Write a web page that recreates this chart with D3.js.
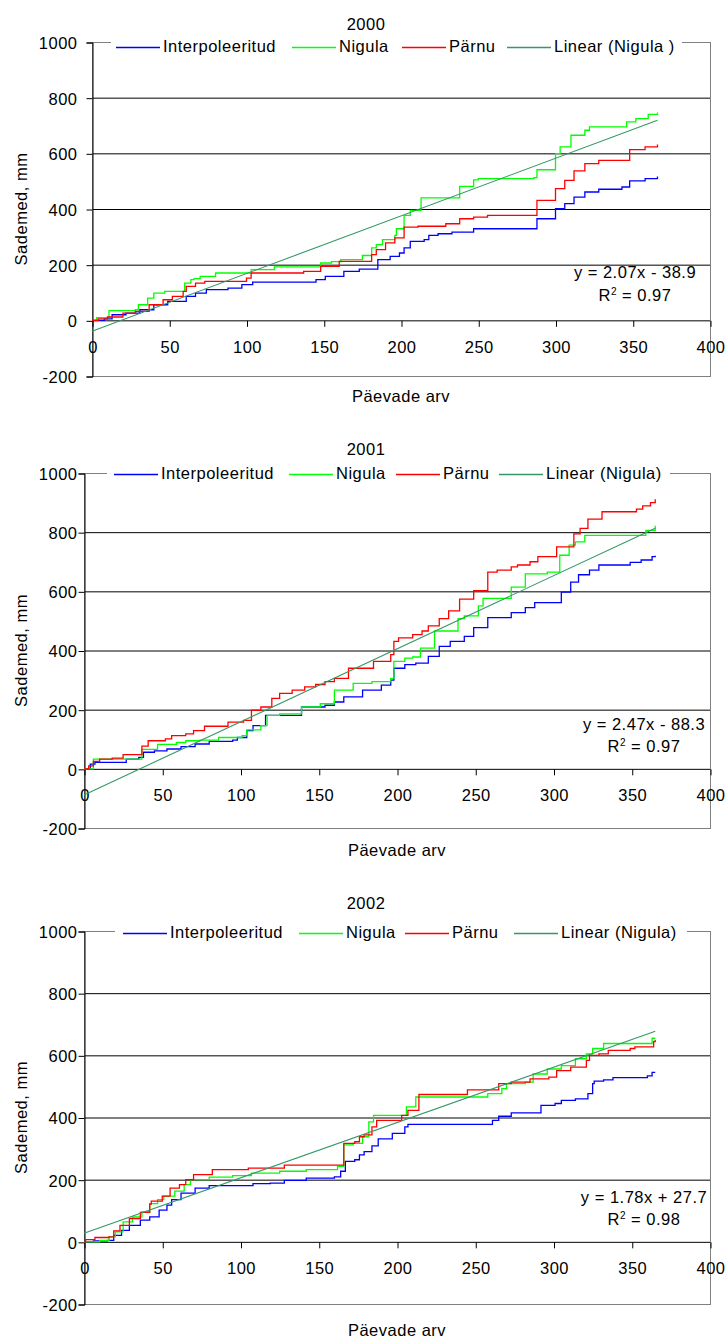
<!DOCTYPE html>
<html>
<head>
<meta charset="utf-8">
<script src="https://d3js.org/d3.v7.min.js"></script>
<style>
  body { margin: 0; background: #fff; }
  svg text { font-family: "Liberation Sans", Arial, sans-serif; font-size: 16.5px; letter-spacing: 0.5px; fill: #000; }
</style>
</head>
<body>
<div id="chart"></div>
<script>
// cumulative precipitation, [day, mm]
const interp2000 = [[0,0],[8,5],[13,20],[22,26],[31,38],[40,56],[49,68],[61,86],[67,98],[74,110],[88,116],[97,128],[104,137],[145,146],[151,158],[163,176],[173,184],[185,218],[193,230],[199,242],[202,260],[206,284],[215,290],[218,305],[224,311],[233,317],[247,329],[288,365],[300,401],[306,419],[312,443],[319,461],[328,471],[343,479],[348,501],[358,509],[366,517]];
const nigula2000 = [[0,0],[3,10],[11,35],[28,38],[30,56],[36,80],[40,98],[47,104],[60,134],[64,146],[66,150],[70,158],[80,170],[103,182],[118,192],[148,206],[155,211],[161,218],[175,233],[181,260],[184,272],[188,290],[196,305],[197,329],[202,377],[206,395],[213,440],[238,481],[247,505],[250,509],[286,513],[288,541],[300,599],[303,623],[310,665],[319,683],[322,695],[346,713],[352,725],[360,740],[366,747]];
const parnu2000 = [[0,0],[4,5],[10,12],[20,26],[28,32],[37,56],[46,74],[52,86],[59,104],[61,122],[67,134],[73,140],[100,152],[103,170],[137,176],[148,194],[160,212],[181,236],[184,254],[190,278],[196,296],[202,335],[211,338],[229,347],[238,365],[247,371],[256,377],[288,431],[300,473],[306,503],[312,537],[319,563],[328,575],[348,613],[358,623],[366,632]];

const interp2001 = [[0,0],[4,16],[7,22],[27,33],[35,39],[38,56],[45,61],[53,67],[62,75],[71,84],[80,93],[95,97],[98,106],[104,129],[108,146],[116,181],[139,209],[154,215],[160,226],[166,243],[178,266],[190,283],[196,300],[198,340],[205,352],[212,357],[220,380],[227,414],[234,431],[243,448],[249,477],[258,511],[273,528],[282,545],[288,562],[305,597],[311,631],[316,656],[323,672],[329,689],[349,698],[356,706],[363,717],[365,720]];
const nigula2001 = [[0,0],[6,33],[37,66],[47,83],[59,89],[65,95],[74,97],[86,106],[101,112],[104,132],[113,146],[117,181],[125,186],[139,209],[151,220],[160,266],[172,289],[184,295],[196,306],[198,363],[205,374],[210,378],[215,408],[224,466],[239,508],[243,517],[252,551],[255,576],[273,614],[282,659],[296,665],[304,722],[310,756],[314,767],[320,789],[359,806],[365,822]];
const parnu2001 = [[0,0],[3,10],[6,25],[10,33],[18,36],[25,48],[37,77],[41,95],[52,101],[56,112],[65,118],[70,129],[77,144],[92,158],[102,164],[107,198],[113,209],[120,238],[125,255],[133,266],[141,277],[148,285],[154,295],[160,306],[169,340],[185,363],[196,386],[198,431],[201,443],[210,454],[216,466],[220,483],[227,508],[233,534],[240,574],[249,602],[258,665],[264,672],[273,683],[277,689],[285,700],[290,717],[302,750],[313,794],[317,813],[322,844],[331,869],[353,878],[357,889],[362,900],[365,911]];

const interp2002 = [[0,0],[6,3],[15,5],[19,21],[24,37],[29,53],[36,70],[42,80],[48,102],[53,118],[56,136],[62,157],[71,173],[80,181],[108,187],[119,189],[128,198],[142,205],[160,209],[164,227],[167,259],[173,264],[176,280],[179,290],[184,309],[188,331],[197,349],[205,370],[207,378],[261,391],[265,404],[273,415],[292,439],[301,445],[305,455],[314,460],[322,477],[325,509],[326,517],[332,521],[338,528],[360,534],[363,545],[365,545]];
const nigula2002 = [[0,0],[10,5],[16,16],[20,32],[25,64],[31,80],[37,96],[42,123],[47,136],[51,147],[58,163],[64,184],[68,200],[80,208],[95,213],[107,221],[125,227],[142,232],[162,243],[166,312],[172,317],[178,338],[182,386],[185,407],[206,434],[212,466],[258,477],[267,493],[270,509],[282,514],[287,540],[296,556],[305,567],[314,589],[321,605],[325,622],[332,638],[363,655],[365,655]];
const parnu2002 = [[0,0],[1,7],[7,14],[16,16],[19,35],[23,53],[29,75],[36,95],[42,121],[43,131],[50,147],[55,173],[61,184],[65,200],[70,216],[82,232],[105,237],[128,247],[166,317],[173,322],[176,338],[179,344],[184,370],[187,391],[203,407],[207,423],[214,474],[245,489],[265,509],[273,514],[285,524],[297,530],[302,551],[311,562],[321,584],[323,600],[329,605],[335,616],[349,622],[352,627],[364,644],[365,649]];

const years = ["2000", "2001", "2002"];
const seriesNames = ["Interpoleeritud", "Nigula", "Pärnu"];
const trendNames = ["Linear (Nigula )", "Linear (Nigula)", "Linear (Nigula)"];
const trendSlope = [2.07, 2.47, 1.78];
const trendIntercept = [-38.9, -88.3, 27.7];
const trendR2 = [0.97, 0.97, 0.98];
const yearDays = [366, 365, 365];
const xTicks = [0, 50, 100, 150, 200, 250, 300, 350, 400];
const yTicks = [-200, 0, 200, 400, 600, 800, 1000];
const allSeries = [
  [interp2000, nigula2000, parnu2000],
  [interp2001, nigula2001, parnu2001],
  [interp2002, nigula2002, parnu2002]
];

const colors = ["#0000ff", "#00ff00", "#ff0000"];
const trendColor = "#339966";
const W = 727, H = 1341, RIGHT = 710;

// panel layout (pixels)
const panels = [
  {top: 42, bottom: 376, left: 92, titleY: 30, legY: 47, legX: [116, 292, 402, 507], legBox: [111, 682], eqX: 635, eqY: 278, r2Y: 301, xTitleY: 402},
  {top: 473, bottom: 828, left: 84, titleY: 455, legY: 474, legX: [114, 289, 396, 499], legBox: [107, 670], eqX: 644, eqY: 730, r2Y: 752, xTitleY: 856},
  {top: 931, bottom: 1304, left: 84, titleY: 909, legY: 933, legX: [123, 299, 405, 514], legBox: [115, 687], eqX: 644, eqY: 1203, r2Y: 1225, xTitleY: 1336}
];

const svg = d3.select("#chart").append("svg")
  .attr("width", W).attr("height", H);

const drawPanel = (i) => {
  const p = panels[i];
  const g = svg.append("g");
  const x = d3.scaleLinear().domain([0, 400]).range([p.left, RIGHT]);
  const y = d3.scaleLinear().domain([-200, 1000]).range([p.bottom, p.top]);

  // gridlines
  g.selectAll(".grid").data(yTicks.filter(t => t > -200 && t < 1000)).join("line")
    .attr("x1", p.left).attr("x2", RIGHT)
    .attr("y1", d => y(d) + 0.5).attr("y2", d => y(d) + 0.5)
    .attr("stroke", "#000").attr("stroke-width", 1);

  // plot border
  g.append("rect")
    .attr("x", p.left + 0.5).attr("y", p.top + 0.5)
    .attr("width", RIGHT - p.left).attr("height", p.bottom - p.top)
    .attr("fill", "none").attr("stroke", "#808080");

  // y axis
  const yAxis = d3.axisLeft(y).tickValues(yTicks).tickFormat(d => String(d)).tickSize(6).tickPadding(8);
  const ya = g.append("g").attr("transform", `translate(${p.left + 0.5},0.5)`).call(yAxis);
  ya.select(".domain").attr("stroke", "#000");
  ya.selectAll(".tick line").attr("stroke", "#000");
  ya.selectAll(".tick text").attr("x", 77 - p.left).attr("dy", "0.36em")
    .style("font-size", "16.5px").style("font-family", '"Liberation Sans", Arial, sans-serif');

  // x axis crossing at 0
  const xAxis = d3.axisBottom(x).tickValues(xTicks).tickFormat(d => String(d)).tickSize(6).tickPadding(0);
  const xa = g.append("g").attr("transform", `translate(0.5,${y(0) + 0.5})`).call(xAxis);
  xa.select(".domain").remove();
  xa.selectAll(".tick line").attr("stroke", "#000");
  xa.selectAll(".tick text").attr("y", 32).attr("dy", 0)
    .style("font-size", "16.5px").style("font-family", '"Liberation Sans", Arial, sans-serif');

  // data
  const line = d3.line().x(d => x(d[0])).y(d => y(d[1])).curve(d3.curveStepAfter);
  allSeries[i].forEach((s, k) => {
    g.append("path").datum(s).attr("d", line)
      .attr("fill", "none").attr("stroke", colors[k]).attr("stroke-width", 1.3);
  });

  // linear trend of Nigula
  const trend = [0, yearDays[i]].map(d => [d, trendSlope[i] * d + trendIntercept[i]]);
  g.append("path").datum(trend).attr("d", d3.line().x(d => x(d[0])).y(d => y(d[1])))
    .attr("fill", "none").attr("stroke", trendColor).attr("stroke-width", 1.1);

  // equation
  const b = trendIntercept[i];
  g.append("text").attr("x", p.eqX).attr("y", p.eqY).attr("text-anchor", "middle")
    .text(`y = ${trendSlope[i].toFixed(2)}x ${b < 0 ? "-" : "+"} ${Math.abs(b).toFixed(1)}`);
  const r2 = g.append("text").attr("x", p.eqX).attr("y", p.r2Y).attr("text-anchor", "middle");
  r2.append("tspan").text("R");
  r2.append("tspan").text("2").attr("dy", -6).style("font-size", "10px");
  r2.append("tspan").text(` = ${trendR2[i].toFixed(2)}`).attr("dy", 6);

  // legend
  g.append("rect").attr("x", p.legBox[0]).attr("y", p.legY - 10)
    .attr("width", p.legBox[1] - p.legBox[0]).attr("height", 20).attr("fill", "#fff");
  const names = seriesNames.concat([trendNames[i]]);
  const legColors = colors.concat([trendColor]);
  names.forEach((n, k) => {
    g.append("line").attr("x1", p.legX[k]).attr("x2", p.legX[k] + 44)
      .attr("y1", p.legY + 0.5).attr("y2", p.legY + 0.5)
      .attr("stroke", legColors[k]).attr("stroke-width", 1.3);
    g.append("text").attr("x", p.legX[k] + 47).attr("y", p.legY + 5).text(n);
  });

  // titles
  g.append("text").attr("x", 366).attr("y", p.titleY).attr("text-anchor", "middle").text(years[i]);
  g.append("text").attr("x", (p.left + RIGHT) / 2).attr("y", p.xTitleY).attr("text-anchor", "middle").text("Päevade arv");
  g.append("text").attr("transform", `translate(27,${(p.top + p.bottom) / 2}) rotate(-90)`)
    .attr("text-anchor", "middle").text("Sademed, mm");
};

[0, 1, 2].forEach(drawPanel);
</script>
</body>
</html>
